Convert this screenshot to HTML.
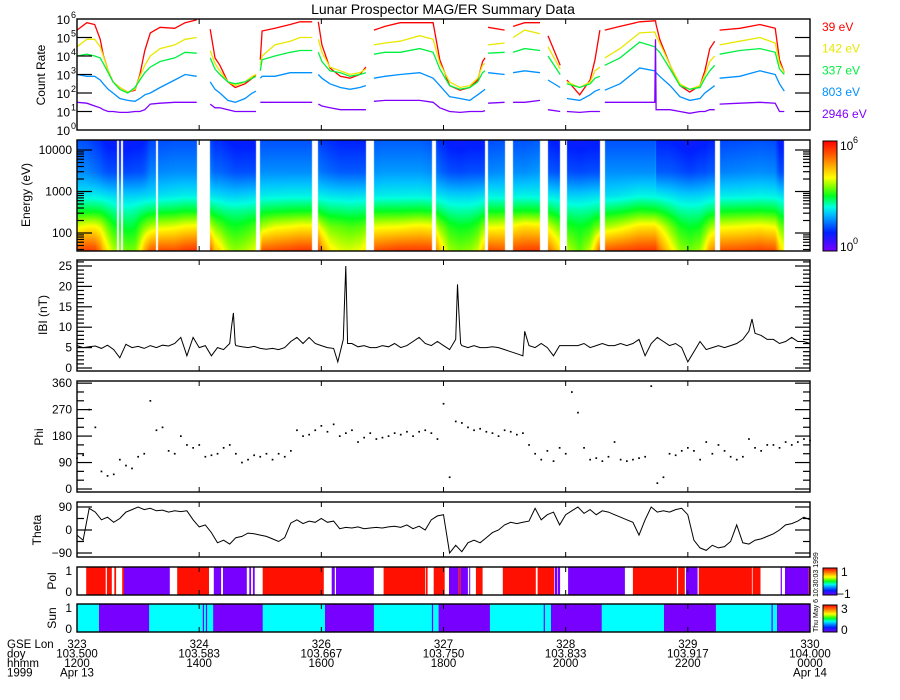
<!DOCTYPE html>
<html><head><meta charset="utf-8">
<style>
html,body{margin:0;padding:0;background:#fff;}
#wrap{position:relative;width:900px;height:700px;overflow:hidden;font-family:"Liberation Sans",sans-serif;}
svg{position:absolute;left:0;top:0;}
canvas{position:absolute;left:77px;top:140px;}
</style></head>
<body>
<div id="wrap">
<canvas id="spec" width="733" height="111"></canvas>
<svg id="fig" width="900" height="700" xmlns="http://www.w3.org/2000/svg"></svg>
</div>
<script>
// ---------- data ----------
const countTimes = [0,0.16,0.29,0.38,0.43,0.51,0.59,0.70,0.83,0.95,1.03,1.11,1.20,1.36,1.60,1.77,1.96,2.01,
2.18,2.26,2.34,2.47,2.59,2.75,2.87,2.93,2.96,
3.00,3.03,3.24,3.49,3.65,3.85,3.90,
3.95,4.01,4.14,4.31,4.47,4.63,4.73,4.80,
4.86,5.04,5.29,5.61,5.83,5.94,6.10,6.27,6.43,6.56,6.64,6.68,6.70,
6.73,7.00,7.05,
7.14,7.33,7.58,7.62,
7.71,7.91,7.95,
8.02,8.23,8.40,8.48,8.56,8.60,
8.64,8.89,9.21,9.46,9.47,9.48,9.54,9.71,9.87,10.03,10.20,10.28,10.36,10.44,10.47,
10.52,10.85,11.18,11.43,11.50,11.58];
const count39 = [5.4,5.8,5.7,4.9,4.05,3.2,2.6,2.3,2.05,2.15,3.0,4.3,5.25,5.55,5.5,5.8,5.95,null,
5.45,3.9,3.5,2.6,2.3,2.5,2.8,3.0,null,
3.8,5.35,5.5,5.7,5.85,5.85,null,
5.85,4.6,3.35,2.9,2.8,3.0,3.4,null,
5.4,5.6,5.8,5.8,5.8,3.8,2.4,2.15,2.3,2.7,3.7,3.9,null,
5.55,5.4,null,
5.6,5.8,5.8,null,
5.1,3.5,null,
2.7,1.9,2.7,3.8,5.4,null,
5.4,5.6,5.85,5.9,5.9,5.7,4.9,3.5,2.4,2.05,2.4,3.2,4.4,4.8,null,
5.4,5.5,5.7,5.5,3.8,3.1];
const count142 = [4.5,4.9,4.9,4.5,4.0,3.2,2.6,2.3,2.05,2.2,2.9,3.5,4.0,4.4,4.6,4.9,5.0,null,
4.3,3.6,3.2,2.6,2.4,2.6,2.9,3.0,null,
3.5,4.0,4.6,4.8,5.0,5.0,null,
4.9,4.2,3.4,3.2,3.0,3.1,3.3,null,
4.6,4.7,4.8,5.1,4.9,3.6,2.6,2.3,2.4,2.8,3.5,3.6,null,
4.6,4.7,null,
5.0,5.4,5.2,null,
4.5,3.3,null,
2.6,2.3,2.6,3.2,3.4,null,
3.9,4.4,5.25,5.3,5.2,5.1,4.7,3.5,2.5,2.2,2.4,3.0,3.7,4.0,null,
4.6,4.8,5.0,4.7,3.6,3.1];
const count337 = [4.0,4.1,4.0,3.9,3.6,3.1,2.6,2.2,2.0,2.3,2.7,3.1,3.4,3.7,3.9,4.2,4.15,null,
3.9,3.3,3.0,2.6,2.5,2.6,2.8,2.9,null,
3.2,3.8,4.0,4.2,4.3,4.3,null,
4.2,3.7,3.2,3.1,2.9,3.0,3.1,null,
4.1,4.2,4.2,4.4,4.2,3.3,2.4,2.2,2.3,2.6,3.1,3.2,null,
4.15,4.2,null,
4.2,4.4,4.3,null,
4.0,3.0,null,
2.5,2.3,2.5,2.8,2.9,null,
3.5,3.9,4.75,4.5,4.4,4.4,4.2,3.3,2.4,2.2,2.3,2.8,3.2,3.5,null,
4.1,4.3,4.4,4.2,3.3,3.0];
const count803 = [3.0,2.9,2.9,2.7,2.5,2.2,2.0,1.7,1.6,1.55,1.7,1.9,2.0,2.3,2.7,3.0,2.9,null,
2.6,2.2,2.0,1.6,1.5,1.7,2.0,2.1,null,
2.8,2.9,2.9,3.1,3.1,3.1,null,
3.0,2.8,2.5,2.3,2.2,2.3,2.4,null,
2.8,2.9,3.0,3.1,2.8,2.4,1.8,1.7,1.6,1.9,2.1,2.2,null,
3.1,3.0,null,
3.1,3.2,3.1,null,
2.7,2.3,null,
1.7,1.6,1.9,2.1,2.2,null,
2.15,2.5,3.35,3.2,3.1,3.1,2.9,2.4,1.8,1.6,1.7,2.0,2.2,2.4,null,
2.8,2.9,3.2,3.0,2.5,2.1];
const count2946 = [1.5,1.45,1.3,1.2,1.1,1.0,1.0,0.95,0.95,1.0,1.0,1.1,1.4,1.45,1.5,1.5,1.5,null,
1.4,1.2,1.2,1.1,1.0,1.0,1.0,1.0,null,
1.5,1.5,1.5,1.5,1.5,1.5,null,
1.4,1.3,1.2,1.1,1.1,1.1,1.1,null,
1.55,1.6,1.6,1.6,1.5,1.2,1.0,0.95,1.0,1.0,1.0,1.05,null,
1.45,1.5,null,
1.5,1.5,1.6,null,
1.1,1.0,null,
1.0,0.95,1.0,1.0,1.0,null,
1.5,1.5,1.5,1.5,4.9,1.1,1.1,1.1,1.0,0.9,1.0,1.0,1.1,1.1,null,
1.4,1.45,1.5,1.45,1.0,1.0];
const channelLabels = ["39 eV","142 eV","337 eV","803 eV","2946 eV"];
const channelEnergies = [39,142,337,803,2946];
const specGaps = [[0.65,0.69],[0.72,0.75],[1.30,1.32],[5.81,5.88],[11.58,12.0]];

const bTimes = [0,0.1,0.2,0.3,0.4,0.5,0.6,0.7,0.8,0.9,1.0,1.1,1.2,1.3,1.4,1.5,1.6,1.7,1.8,1.9,2.0,2.1,2.2,2.3,2.4,2.5,2.53,2.56,2.59,2.6,2.7,2.8,2.9,
3.0,3.1,3.2,3.3,3.4,3.5,3.6,3.7,3.8,3.9,4.0,4.1,4.2,4.27,4.36,4.38,4.40,4.43,4.5,4.6,4.7,4.8,4.9,
5.0,5.1,5.2,5.3,5.4,5.5,5.6,5.7,5.8,5.9,6.0,6.1,6.2,6.23,6.25,6.28,6.3,6.4,6.5,6.6,6.7,6.8,6.9,
7.0,7.1,7.2,7.3,7.33,7.4,7.5,7.6,7.7,7.8,7.9,8.0,8.1,8.2,8.3,8.4,8.5,8.6,8.7,8.8,8.9,
9.0,9.1,9.2,9.3,9.4,9.5,9.6,9.7,9.8,9.9,10.0,10.1,10.2,10.3,10.4,10.5,10.6,10.7,10.8,10.9,
11.0,11.05,11.1,11.2,11.3,11.4,11.5,11.6,11.7,11.8,11.9,12.0];
const bValues = [5.5,5.0,5.2,5.4,4.8,5.6,4.5,2.5,5.8,5.0,5.3,4.8,5.5,5.0,5.6,5.4,6.0,7.5,3.0,7.5,5.0,5.5,3.0,5.0,4.5,6.0,10,13.5,6,5.5,5.2,5.0,5.3,
4.8,4.6,4.8,4.5,5.0,6.5,7.5,6.0,7.5,6.0,5.5,5.0,4.8,1.5,7,16,25,6,6.0,5.2,5.5,5.0,5.0,
5.5,5.2,6.0,5.0,5.5,6.5,7.5,6.0,5.5,6.5,5.5,4.5,7.0,20.5,14,6,5.5,5.0,5.5,5.0,5.0,5.2,5.0,
4.5,4.0,3.5,3.0,9.0,5.5,5.0,6.0,5.0,3.0,5.5,5.5,5.5,5.5,6.0,5.0,5.5,6.0,5.5,5.5,6.0,
5.5,6.0,7.0,3.0,6.0,7.5,6.5,5.5,6.0,5.0,1.5,4.0,6.5,4.5,5.0,5.5,5.0,5.5,6.0,7.0,
9.0,12.0,8.5,8.0,7.0,7.0,6.0,6.5,7.5,6.5,6.5,6.0];

const angleTimes = [0,0.1,0.2,0.3,0.4,0.5,0.6,0.7,0.8,0.9,1.0,1.1,1.2,1.3,1.4,1.5,1.6,1.7,1.8,1.9,2.0,2.1,2.2,2.3,2.4,2.5,2.6,2.7,2.8,2.9,
3.0,3.1,3.2,3.3,3.4,3.5,3.6,3.7,3.8,3.9,4.0,4.1,4.2,4.3,4.4,4.5,4.6,4.7,4.8,4.9,5.0,5.1,5.2,5.3,5.4,5.5,5.6,5.7,5.8,5.9,
6.0,6.1,6.2,6.3,6.4,6.5,6.6,6.7,6.8,6.9,7.0,7.1,7.2,7.3,7.4,7.5,7.6,7.7,7.8,7.9,8.0,8.1,8.2,8.3,8.4,8.5,8.6,8.7,8.8,8.9,
9.0,9.1,9.2,9.3,9.4,9.5,9.6,9.7,9.8,9.9,10.0,10.1,10.2,10.3,10.4,10.5,10.6,10.7,10.8,10.9,11.0,11.1,11.2,11.3,11.4,11.5,11.6,11.7,11.8,11.9,12.0];
const phiValues = [105,115,270,210,60,45,50,100,80,70,110,120,300,200,210,130,120,180,150,140,
150,110,115,120,140,150,120,90,100,115,110,120,100,120,110,130,200,180,185,200,
215,195,220,180,190,200,160,175,190,170,175,180,190,185,195,180,195,200,190,170,
290,40,230,225,210,200,205,195,190,180,200,195,185,190,150,120,100,130,95,140,
120,330,260,140,100,105,95,110,160,100,95,100,105,110,350,20,40,120,115,130,
140,130,100,160,120,150,130,110,100,110,170,140,130,150,150,140,160,150,160,170,165];
const thetaValues = [-20,-40,85,70,40,50,30,45,70,80,90,80,85,75,78,70,75,72,75,40,
12,20,-10,-50,-40,-55,-30,-25,-12,-15,-20,-25,-35,-45,-30,27,40,25,35,30,
45,30,35,5,10,8,12,5,8,10,8,12,15,10,20,5,15,0,40,55,
60,-90,-60,-85,-50,-40,-50,-30,-10,0,20,30,25,30,35,85,40,60,70,20,
60,75,90,65,80,60,75,70,60,50,40,30,-20,40,90,70,75,70,80,85,
60,-40,-70,-80,-60,-70,-65,-45,20,-50,-55,-40,-35,-25,-15,0,20,25,35,50,40];

const polSegments = [[0.15,0.47,1],[0.49,0.57,1],[0.61,0.64,1],[0.74,0.77,1],[0.77,1.52,-1],[1.64,2.16,1],[2.24,2.36,-1],[2.39,2.78,-1],[2.82,2.85,-1],[2.88,2.91,-1],
[3.04,4.04,1],[4.17,4.22,-1],[4.24,4.86,-1],[5.02,5.70,1],[5.71,5.74,1],[5.84,6.02,1],[6.09,6.25,-1],[6.25,6.28,1],[6.28,6.40,-1],[6.42,6.43,-1],[6.53,6.64,1],
[6.97,7.51,1],[7.54,7.81,1],[7.82,7.86,-1],[7.87,7.91,-1],[8.04,8.97,-1],[9.10,9.82,1],[9.84,9.95,1],[9.97,10.16,-1],[10.18,11.05,1],[11.06,11.19,1],[11.52,11.54,-1],[11.59,11.98,-1],[11.98,12.0,1]];
const sunShadow = [[0.36,1.18],[2.06,2.08],[2.11,2.13],[2.23,3.04],[4.06,4.86],[5.81,5.83],[5.92,6.76],[7.64,7.66],[7.76,8.59],[9.61,10.46],[11.37,11.39],[11.46,12.0]];

const tickHours = [0,2,4,6,8,10,12];
const tickLon = ["323","324","326","327","328","329","330"];
const tickDoy = ["103.500","103.583","103.667","103.750","103.833","103.917","104.000"];
const tickHhmm = ["1200","1400","1600","1800","2000","2200","0000"];
const tickDate = ["Apr 13","","","","","","Apr 14"];

// ---------- geometry ----------
const X0=77, X1=810;
const xOf = t => X0 + t/12*(X1-X0);
const P = {count:[19,130], spec:[140,251], b:[260,371], phi:[381,492], theta:[502,557], pol:[567,595], sun:[604,632]};
const yCount = v => 130 - v*18.5;
const ySpecE = le => 233 - (le-2)*41.5;
const yB = v => 368 - v*4.08;
const yPhi = v => 489 - v*0.294;
const yTheta = v => 530 - v*0.2556;

const NS="http://www.w3.org/2000/svg";
const svg=document.getElementById('fig');
function mk(tag, attrs, parent){const e=document.createElementNS(NS,tag);for(const k in attrs)e.setAttribute(k,attrs[k]);(parent||svg).appendChild(e);return e;}
function txt(s,x,y,opts,parent){const e=mk('text',Object.assign({x:x,y:y,'font-size':12,fill:'#000','font-family':'Liberation Sans, sans-serif'},opts||{}),parent);e.textContent=s;return e;}

const cmStops=[[0,[120,0,255]],[1,[0,32,255]],[1.5,[0,110,255]],[2,[0,192,255]],[2.4,[0,255,224]],[3,[0,255,32]],[3.5,[128,255,0]],[4,[255,255,0]],[4.6,[255,176,0]],[5.2,[255,96,0]],[6,[255,0,0]]];
function cmap(v){if(v<=0)return cmStops[0][1];if(v>=6)return cmStops[cmStops.length-1][1];for(let i=0;i<cmStops.length-1;i++){const a=cmStops[i],b=cmStops[i+1];if(v>=a[0]&&v<=b[0]){const f=(v-a[0])/(b[0]-a[0]);return [0,1,2].map(k=>Math.round(a[1][k]+f*(b[1][k]-a[1][k])));}}return [0,0,0];}

// ---------- title ----------
const title=txt('Lunar Prospector MAG/ER Summary Data',443,14,{'text-anchor':'middle','font-size':14});



// ---------- spectrogram ----------
(function(){
  const cv=document.getElementById('spec');const ctx=cv.getContext('2d');
  const img=ctx.createImageData(733,111);
  const chans=[count39,count142,count337,count803,count2946];
  const ca=[2.3,2.08,2.12,1.87,0.5], cb=[0.545,0.4,0.21,0.143,0.8];
  const logE=channelEnergies.map(e=>Math.log10(e));
  for(let px=0;px<733;px++){
    const t=(px+0.5)/733*12;
    let gap=specGaps.some(g=>t>=g[0]&&t<=g[1]);
    let vals=null;
    if(!gap){
      for(let i=0;i<countTimes.length-1;i++){
        if(t>=countTimes[i]&&t<=countTimes[i+1]){
          if(count39[i]===null||count39[i+1]===null)break;
          const f=(t-countTimes[i])/(countTimes[i+1]-countTimes[i]);
          vals=chans.map((c,k)=>{let cv=c[i]+f*(c[i+1]-c[i]);if(k===4)cv=Math.min(cv,1.7);return ca[k]+cb[k]*cv;});break;}
      }
    }
    for(let py=0;py<111;py++){
      const idx=(py*733+px)*4;
      if(!vals){img.data[idx]=255;img.data[idx+1]=255;img.data[idx+2]=255;img.data[idx+3]=255;continue;}
      const y=140+py+0.5;const le=2+(233-y)/41.5;
      let v;
      if(le<=logE[0])v=vals[0];
      else if(le>=logE[4])v=vals[4]-0.5*(le-logE[4]);
      else{for(let k=0;k<4;k++){if(le>=logE[k]&&le<=logE[k+1]){const f=(le-logE[k])/(logE[k+1]-logE[k]);v=vals[k]+f*(vals[k+1]-vals[k]);break;}}}
      const c=cmap(v);img.data[idx]=c[0];img.data[idx+1]=c[1];img.data[idx+2]=c[2];img.data[idx+3]=255;
    }
  }
  ctx.putImageData(img,0,0);
})();

// ---------- count rate lines ----------
const chanColors=['#ff0000','#e8e800','#00f040','#0090ff','#8000ff'];
[count39,count142,count337,count803,count2946].forEach((arr,k)=>{
  let d='',pen=false;
  for(let i=0;i<countTimes.length;i++){
    if(arr[i]===null){pen=false;continue;}
    d+=(pen?'L':'M')+xOf(countTimes[i]).toFixed(1)+' '+yCount(arr[i]).toFixed(1)+' ';pen=true;
  }
  const p=mk('path',{d:d,fill:'none',stroke:chanColors[k],'stroke-width':1.3});
  
  
  const lb=txt(channelLabels[k],822,31+k*21.7,{fill:chanColors[k],'font-size':12});
  
  
});

// ---------- |B| ----------
{let d='';bTimes.forEach((t,i)=>{d+=(i?'L':'M')+xOf(t).toFixed(1)+' '+yB(bValues[i]).toFixed(1)+' ';});
const p=mk('path',{d:d,fill:'none',stroke:'#000','stroke-width':1});

}

// ---------- Phi ----------
const phiG=mk('g',{});


angleTimes.forEach((t,i)=>{if(phiValues[i]===null)return;
  const r=mk('rect',{x:(xOf(t)-0.8).toFixed(1),y:(yPhi(phiValues[i])-0.8).toFixed(1),width:1.7,height:1.7,fill:'#000'},phiG);
  
  });

// ---------- Theta ----------
{let d='';angleTimes.forEach((t,i)=>{d+=(i?'L':'M')+xOf(t).toFixed(1)+' '+yTheta(thetaValues[i]).toFixed(1)+' ';});
const p=mk('path',{d:d,fill:'none',stroke:'#000','stroke-width':1});

}

// ---------- Pol ----------
polSegments.forEach(s=>{
  const r=mk('rect',{x:xOf(s[0]).toFixed(1),y:P.pol[0],width:Math.max(1,xOf(s[1])-xOf(s[0])).toFixed(1),height:P.pol[1]-P.pol[0],fill:s[2]>0?'#ff1000':'#7800ff'});
  
  });
// ---------- Sun ----------
{const r=mk('rect',{x:X0,y:P.sun[0],width:X1-X0,height:P.sun[1]-P.sun[0],fill:'#00ffff'});

}
sunShadow.forEach(s=>{
  const r=mk('rect',{x:xOf(s[0]).toFixed(1),y:P.sun[0],width:Math.max(1,xOf(s[1])-xOf(s[0])).toFixed(1),height:P.sun[1]-P.sun[0],fill:'#7800ff'});
  
  });

// ---------- axes frames & ticks ----------
function frame(name,y0,y1){
  const r=mk('rect',{x:X0,y:y0,width:X1-X0,height:y1-y0,fill:'none',stroke:'#000','stroke-width':1.4});
  
  
  tickHours.forEach(h=>{const x=xOf(h);
    mk('line',{x1:x,x2:x,y1:y1,y2:y1-5,stroke:'#000'});
    mk('line',{x1:x,x2:x,y1:y0,y2:y0+5,stroke:'#000'});});
}
function ytick(y,len){mk('line',{x1:X0,x2:X0+len,y1:y,y2:y,stroke:'#000','stroke-width':1.2});mk('line',{x1:X1,x2:X1-len,y1:y,y2:y,stroke:'#000','stroke-width':1.2});}
function ylab(s,y,name){const t=txt(s,72,y+4,{'text-anchor':'end'});return t;}
function axTitle(s,x,y,name){const t=txt(s,x,y,{'text-anchor':'middle',transform:'rotate(-90 '+x+' '+y+')'});}

frame('count-rate',19,130);
for(let n=0;n<=6;n++){ if(n>0&&n<6)ytick(yCount(n),15);
  const t=txt('10',70,yCount(n)+5,{'text-anchor':'end'});
  
  
  const s=txt(String(n),71,yCount(n)-1,{'font-size':9});
  
  }
axTitle('Count Rate',45,75,'count-rate-axis-title');

frame('spectrogram',140,251);
for(let d=1;d<=4;d++){for(let m=1;m<=9;m++){const le=d+Math.log10(m);const y=ySpecE(le);if(y<141||y>250)continue;ytick(y,m===1?15:7);}}
[[4,'10000'],[3,'1000'],[2,'100']].forEach(a=>ylab(a[1],ySpecE(a[0]),'energy-y-tick-label'));
axTitle('Energy (eV)',30,195,'energy-axis-title');

frame('b-magnitude',260,371);
for(let v=0;v<=26;v++){const y=yB(v);if(y<261)continue;ytick(y,v%5===0?15:7);}
[0,5,10,15,20,25].forEach(v=>ylab(String(v),yB(v),'b-y-tick-label'));
axTitle('IBI (nT)',47,315,'b-axis-title');

frame('phi',381,492);
for(let v=0;v<=360;v+=30){ytick(yPhi(v),v%90===0?15:7);}
[0,90,180,270,360].forEach(v=>ylab(String(v),yPhi(v),'phi-y-tick-label'));
axTitle('Phi',43,437,'phi-axis-title');

frame('theta',502,557);
for(let v=-90;v<=90;v+=45){ytick(yTheta(v),v%90===0?15:7);}
[90,0,-90].forEach(v=>ylab(String(v).replace('-','\u2212'),yTheta(v),'theta-y-tick-label'));
axTitle('Theta',41,530,'theta-axis-title');

frame('pol',567,595);
ylab('1',571,'pol-y-tick-label');ylab('0',592,'pol-y-tick-label');
axTitle('Pol',56,581,'pol-axis-title');
frame('sun',604,632);
ylab('1',608,'sun-y-tick-label');ylab('0',629,'sun-y-tick-label');
axTitle('Sun',56,618,'sun-axis-title');

// ---------- x labels ----------
['GSE Lon','doy','hhmm','1999'].forEach((s,i)=>{const t=txt(s,7,648+i*9.5,{'font-size':11.5});});
tickHours.forEach((h,i)=>{const x=xOf(h);
  [tickLon[i],tickDoy[i],tickHhmm[i],tickDate[i]].forEach((s,r)=>{if(!s)return;
    const t=txt(s,x,648+r*9.5,{'text-anchor':'middle','font-size':11.5});
    
    });});

// ---------- colorbars ----------
const defs=mk('defs',{});
const lg=mk('linearGradient',{id:'rb',x1:0,y1:1,x2:0,y2:0},defs);
cmStops.forEach(s=>mk('stop',{offset:(s[0]/6).toFixed(3),'stop-color':'rgb('+s[1].join(',')+')'},lg));
function cbar(name,y0,y1){const r=mk('rect',{x:823,y:y0,width:14,height:y1-y0,fill:'url(#rb)',stroke:'#000','stroke-width':1});}
cbar('spectrogram-colorbar',141,251);
txt('10',840,150,{});
txt('6',853,143,{'font-size':9});
txt('10',840,251,{});
txt('0',853,244,{'font-size':9});
cbar('pol-colorbar',568,595);
txt('1',841,576,{});
txt('\u22121',837,598,{});
cbar('sun-colorbar',605,632);
txt('3',841,613,{});
txt('0',841,634,{});
{const t=txt('Thu May  6 10:30:03 1999',818,632,{'font-size':7,transform:'rotate(-90 818 632)'});

}
</script>
</body></html>
